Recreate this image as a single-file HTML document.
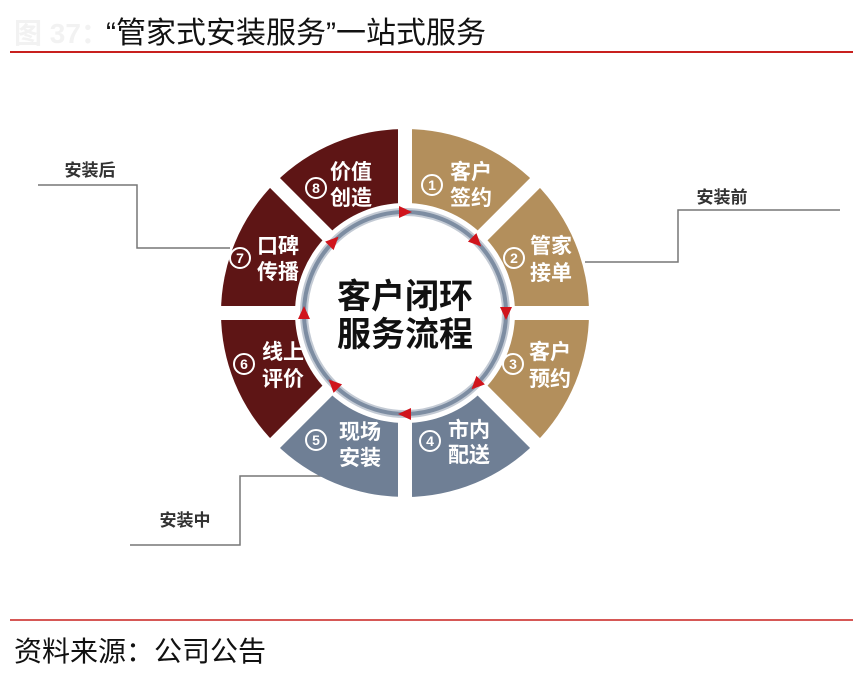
<!DOCTYPE html>
<html><head><meta charset="utf-8"><style>
html,body{margin:0;padding:0;background:#fff;}
body{width:866px;height:687px;overflow:hidden;font-family:"Liberation Sans","Noto Sans CJK SC",sans-serif;}
</style></head><body>
<svg width="866" height="687" viewBox="0 0 866 687" xmlns="http://www.w3.org/2000/svg" font-family="Liberation Sans, Noto Sans CJK SC, sans-serif">
<text x="14" y="43" font-size="28" fill="#f2f2f2" font-weight="bold">图 37：</text>
<text x="106" y="43" font-size="30" fill="#111">“管家式安装服务”一站式服务</text>
<line x1="10" y1="52" x2="853" y2="52" stroke="#c8201e" stroke-width="2"/>

<g stroke="#777" stroke-width="1.5" fill="none">
<polyline points="38,185 137,185 137,248 230,248"/>
<polyline points="585,262 678,262 678,210 840,210"/>
<polyline points="130,545 240,545 240,476 330,476"/>
</g>
<text x="90" y="176" font-size="17" font-weight="bold" fill="#333" text-anchor="middle">安装后</text>
<text x="722" y="203" font-size="17" font-weight="bold" fill="#333" text-anchor="middle">安装前</text>
<text x="185" y="526" font-size="17" font-weight="bold" fill="#333" text-anchor="middle">安装中</text>

<g>
<path fill="#b38f5c" d="M405,313 L405,129 A184,184 0 0 1 535.1,182.9 Z"/>
<path fill="#b38f5c" d="M405,313 L535.1,182.9 A184,184 0 0 1 589,313 Z"/>
<path fill="#b38f5c" d="M405,313 L589,313 A184,184 0 0 1 535.1,443.1 Z"/>
<path fill="#6f7f95" d="M405,313 L535.1,443.1 A184,184 0 0 1 405,497 Z"/>
<path fill="#6f7f95" d="M405,313 L405,497 A184,184 0 0 1 274.9,443.1 Z"/>
<path fill="#5e1515" d="M405,313 L274.9,443.1 A184,184 0 0 1 221,313 Z"/>
<path fill="#5e1515" d="M405,313 L221,313 A184,184 0 0 1 274.9,182.9 Z"/>
<path fill="#5e1515" d="M405,313 L274.9,182.9 A184,184 0 0 1 405,129 Z"/>
</g>
<g stroke="#fff" stroke-width="14">
<line x1="405" y1="313" x2="405" y2="100"/>
<line x1="405" y1="313" x2="405" y2="526"/>
<line x1="405" y1="313" x2="190" y2="313"/>
<line x1="405" y1="313" x2="620" y2="313"/>
<line x1="405" y1="313" x2="560" y2="158"/>
<line x1="405" y1="313" x2="250" y2="468"/>
<line x1="405" y1="313" x2="250" y2="158"/>
<line x1="405" y1="313" x2="560" y2="468"/>
</g>
<circle cx="405" cy="313" r="110" fill="#fff"/>
<circle cx="405" cy="313" r="101" fill="none" stroke="#c3cad4" stroke-width="8"/>
<circle cx="405" cy="313" r="101" fill="none" stroke="#7d8da2" stroke-width="4"/>
<g fill="#d0141c">
<path d="M7,0 L-6,-6 L-6,6 Z" transform="translate(405,212)"/>
<path d="M7,0 L-6,-6 L-6,6 Z" transform="translate(476.4,241.6) rotate(45)"/>
<path d="M7,0 L-6,-6 L-6,6 Z" transform="translate(506,313) rotate(90)"/>
<path d="M7,0 L-6,-6 L-6,6 Z" transform="translate(476.4,384.4) rotate(135)"/>
<path d="M7,0 L-6,-6 L-6,6 Z" transform="translate(405,414) rotate(180)"/>
<path d="M7,0 L-6,-6 L-6,6 Z" transform="translate(333.6,384.4) rotate(225)"/>
<path d="M7,0 L-6,-6 L-6,6 Z" transform="translate(304,313) rotate(270)"/>
<path d="M7,0 L-6,-6 L-6,6 Z" transform="translate(333.6,241.6) rotate(315)"/>
</g>
<text x="405" y="308" font-size="34" font-weight="bold" fill="#111" text-anchor="middle">客户闭环</text>
<text x="405" y="346" font-size="34" font-weight="bold" fill="#111" text-anchor="middle">服务流程</text>

<g fill="#fff" font-size="21" font-weight="bold" text-anchor="middle">
<g stroke="#fff" stroke-width="2" fill="none">
<circle cx="432" cy="185" r="10"/><circle cx="514" cy="258" r="10"/><circle cx="513" cy="364" r="10"/><circle cx="430" cy="441" r="10"/>
<circle cx="316" cy="440" r="10"/><circle cx="244" cy="364" r="10"/><circle cx="240" cy="258" r="10"/><circle cx="316" cy="188" r="10"/>
</g>
<g font-size="14">
<text x="432" y="190">1</text><text x="514" y="263">2</text><text x="513" y="369">3</text><text x="430" y="446">4</text>
<text x="316" y="445">5</text><text x="244" y="369">6</text><text x="240" y="263">7</text><text x="316" y="193">8</text>
</g>
<text x="471" y="179">客户</text><text x="471" y="205">签约</text>
<text x="551" y="253">管家</text><text x="551" y="280">接单</text>
<text x="550" y="359">客户</text><text x="550" y="386">预约</text>
<text x="469" y="437">市内</text><text x="469" y="462">配送</text>
<text x="360" y="439">现场</text><text x="360" y="465">安装</text>
<text x="283" y="359">线上</text><text x="283" y="386">评价</text>
<text x="278" y="253">口碑</text><text x="278" y="279">传播</text>
<text x="351" y="179">价值</text><text x="351" y="205">创造</text>
</g>

<line x1="10" y1="620" x2="853" y2="620" stroke="#c8201e" stroke-width="1.5"/>
<text x="14" y="661" font-size="28" fill="#111">资料来源：公司公告</text>
</svg>
</body></html>
